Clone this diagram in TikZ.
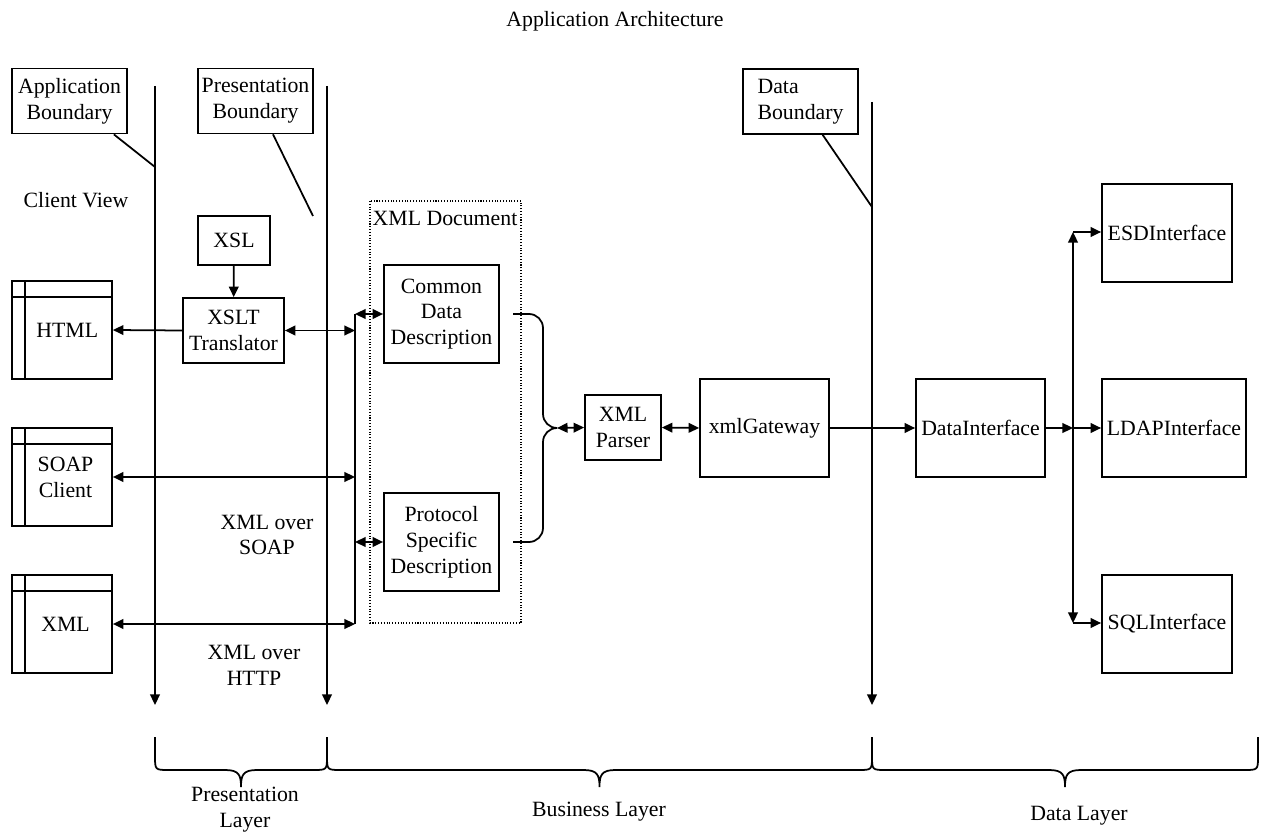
\documentclass[tikz,border=0pt]{standalone}
\usepackage{fontspec}
\setmainfont{Liberation Serif}
\usepackage{tikz}
\usetikzlibrary{positioning,arrows.meta,calc}

\begin{document}
\begin{tikzpicture}
  [x=0.02cm, y=-0.02cm, line width=1pt, >={Triangle[length=6pt,width=5.5pt]},
   every node/.style={font=\fontsize{12.4}{14.7}\selectfont, inner sep=0pt, align=center},
   blk/.style={draw, line width=1pt},
   client/.style={draw, line width=1pt, minimum width=2cm, minimum height=1.96cm},
   layerbox/.style={draw, line width=1pt, minimum width=2.3cm, minimum height=1.3cm}]
  \useasboundingbox (0,0) rectangle (1261,834);

  \node (title) at (615,21) {Application Architecture};

  % boundaries
  \node[layerbox] (appb) at (69.5,101) {Application\\Boundary};
  \node[layerbox] (presb) at (255.5,101) {Presentation\\Boundary};
  \node[layerbox, align=left] (datab) at (800.5,101.5) {Data\\Boundary};

  \coordinate (a1) at (155,86);  \coordinate (a2) at (155,705);
  \coordinate (p1) at (327,86);  \coordinate (p2) at (327,705);
  \coordinate (d1) at (872,102); \coordinate (d2) at (872,705);
  \draw[->] (a1) -- (a2);
  \draw[->] (p1) -- (p2);
  \draw[->] (d1) -- (d2);

  \coordinate (al) at (155,167);
  \coordinate (pl) at (313,216);
  \coordinate (dl) at (872,207);
  \draw ($(appb.south west)!0.88!(appb.south east)$) -- (al);
  \draw ($(presb.south west)!0.65!(presb.south east)$) -- (pl);
  \draw ($(datab.south west)!0.69!(datab.south east)$) -- (dl);

  \node (cview) at (76,200) {Client View};

  % clients
  \node[client] (html) at (62,330) {\hspace{6pt}HTML};
  \node[client] (soap) at (62,477) {\hspace{4pt}SOAP\\\hspace{4pt}Client};
  \node[client] (xmlc) at (62,624) {\hspace{4pt}XML};
  \foreach \c in {html,soap,xmlc} {
    \draw ($(\c.north west)+(0,17)$) -- ($(\c.north east)+(0,17)$);
    \draw ($(\c.north west)+(14,0)$) -- ($(\c.south west)+(14,0)$);
  }

  % presentation
  \node[blk, minimum width=1.44cm, minimum height=0.98cm] (xsl) at (234,240.5) {XSL};
  \node[blk, minimum width=2.02cm, minimum height=1.3cm] (xslt) at (233.5,330.5) {XSLT\\Translator};
  \draw[->] (xsl) -- (xslt);
  \draw[->] (xslt.west) -- (html.east);

  \node (soaplbl) at (267,535) {XML over\\SOAP};
  \node (httplbl) at (254,665) {XML over\\HTTP};

  % business
  \draw[densely dotted, line width=0.6pt] (370,201) rectangle (521,623);
  \node (xmldoc) at (445,218) {XML Document};
  \node[blk, minimum width=2.3cm, minimum height=1.96cm] (cdd) at (441.5,314) {Common\\Data\\Description};
  \node[blk, minimum width=2.3cm, minimum height=1.96cm] (psd) at (441.5,542) {Protocol\\Specific\\Description};
  \node[blk, minimum width=1.52cm, minimum height=1.3cm] (parser) at (623,427.5) {XML\\Parser};
  \node[blk, minimum width=2.58cm, minimum height=1.96cm] (gw) at (764.5,428) {xmlGateway};

  \coordinate (bt) at (355,314);
  \coordinate (bb) at (355,624);
  \draw (bt) -- (bb);
  \draw[<->] (xslt.east) -- (xslt.east -| bt);
  \draw[<->] (soap.east) -- (soap.east -| bt);
  \draw[<->] (xmlc.east) -- (xmlc.east -| bt);
  \draw[<->] (bt) -- (cdd.west);
  \draw[<->] (psd.west -| bt) -- (psd.west);

  \coordinate (cddout) at (513,314);
  \coordinate (psdout) at (513,542);
  \coordinate (mrg) at (557,428);
  \draw[rounded corners=8pt] (cddout) -- (543,314) -- (543,428) -- (mrg);
  \draw[rounded corners=8pt] (psdout) -- (543,542) -- (543,428) -- (mrg);
  \draw[<->] (mrg) -- (parser.west);
  \draw[<->] (parser.east) -- (gw.west);

  % data
  \node[blk, minimum width=2.58cm, minimum height=1.96cm] (datai) at (980.5,428) {DataInterface};
  \node[blk, minimum width=2.6cm, minimum height=1.96cm] (esd) at (1167,233) {ESDInterface};
  \node[blk, minimum width=2.88cm, minimum height=1.96cm] (ldap) at (1174,428) {LDAPInterface};
  \node[blk, minimum width=2.6cm, minimum height=1.96cm] (sql) at (1167,624) {SQLInterface};
  \draw[->] (gw.east) -- (datai.west);

  \coordinate (rt) at (1073,232);
  \coordinate (rb) at (1073,623);
  \draw[<->] (rt) -- (rb);
  \draw[->] (datai.east) -- (datai.east -| rt);
  \draw[->] (datai.east -| rt) -- (ldap.west);
  \draw[->] (rt) -- (rt -| esd.west);
  \draw[->] (rb) -- (rb -| sql.west);

  % layers
  \foreach \a/\b in {155/327, 327/872, 872/1258} {
    \pgfmathsetmacro\m{(\a+\b)/2}
    \draw (\a,737) -- (\a,756) .. controls (\a,770) .. ({\a+14},770) -- ({\m-16},770)
      .. controls ({\m-2},770) and (\m,775) .. (\m,787)
      .. controls (\m,775) and ({\m+2},770) .. ({\m+16},770) -- ({\b-14},770)
      .. controls (\b,770) .. (\b,756) -- (\b,737);
  }
  \node (preslayer) at (245,810) {Presentation\\Layer};
  \node (buslayer) at (599,812) {Business Layer};
  \node (datalayer) at (1079,816) {Data Layer};
\end{tikzpicture}
\end{document}
